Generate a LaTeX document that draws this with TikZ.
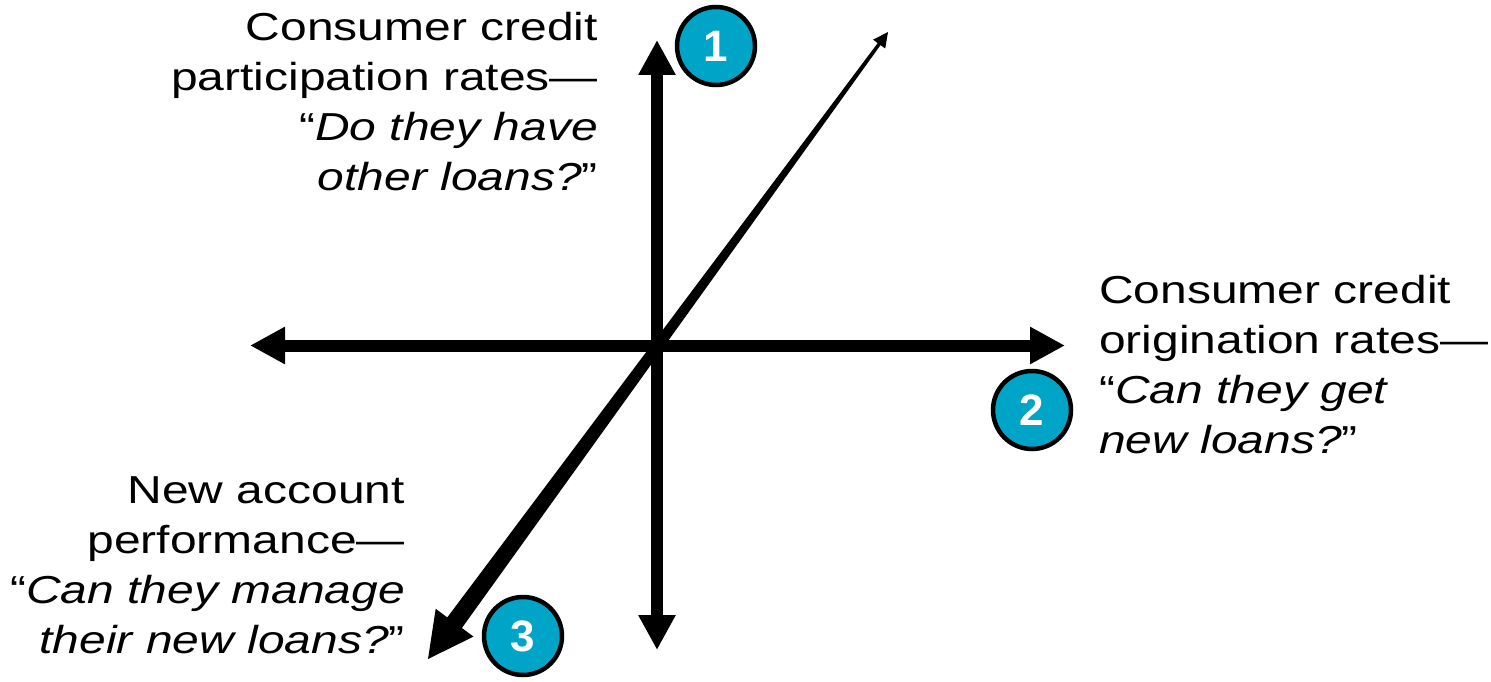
\documentclass[tikz,border=0pt]{standalone}
\usepackage{fontspec}
\setmainfont{Liberation Sans}[FakeStretch=1.23]
\newfontfamily\numfont{Liberation Sans}
\usetikzlibrary{arrows.meta}
\definecolor{badge}{RGB}{0,164,199}
\tikzset{
  axis/.style={line width=12pt, {Triangle[length=35pt,width=35pt]}-{Triangle[length=35pt,width=35pt]}},
  lbl/.style={inner sep=0pt, font=\fontsize{39}{50}\selectfont},
  badgenode/.style={circle, draw=black, line width=4.5pt, fill=badge, minimum size=78pt, inner sep=0pt,
    text=white, font=\numfont\bfseries\fontsize{44}{44}\selectfont}
}
\begin{document}
\begin{tikzpicture}[x=1pt,y=-1pt]
\useasboundingbox (0,0) rectangle (1491,682);
% axes
\coordinate (vtop) at (657,40);
\coordinate (vbot) at (657,650);
\coordinate (hl) at (250,345.5);
\coordinate (hr) at (1065,345.5);
\draw[axis] (vbot) -- (vtop);
\draw[axis] (hl) -- (hr);
% tapered diagonal arrow
\fill (888,32) -- (885.2,48.5) -- (880.5,45.1) -- (461.9,628.0) -- (473.5,636.6)
  -- (428,659) -- (435.7,608.8) -- (447.3,617.4) -- (877.7,43.1) -- (873.1,39.7) -- cycle;
% badges
\node[badgenode] (b1) at (716,46) {1};
\node[badgenode] (b2) at (1032,410) {2};
\node[badgenode] (b3) at (523,636) {3};
% labels (base anchor = baseline of last line)
\node[lbl, anchor=base east, align=right] (t1) at (598,190)
  {Consumer credit\\participation rates---\\“\textit{Do they have}\\\textit{other loans?}”};
\node[lbl, anchor=base west, align=left] (t2) at (1099,453)
  {Consumer credit\\origination rates---\\“\textit{Can they get}\\\textit{new loans?}”};
\node[lbl, anchor=base east, align=right] (t3) at (405,653)
  {New account\\performance---\\“\textit{Can they manage}\\\textit{their new loans?}”};
\end{tikzpicture}
\end{document}
